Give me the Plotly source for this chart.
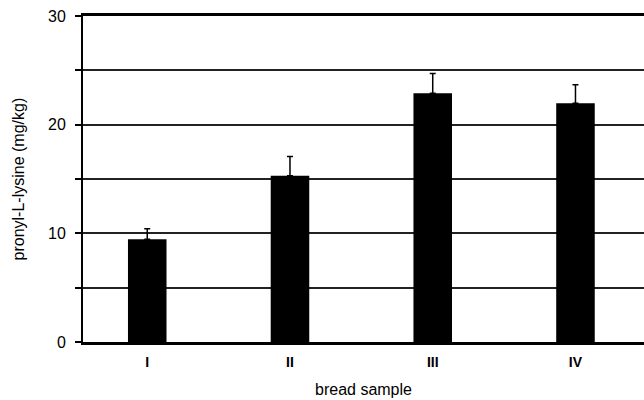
import plotly.graph_objects as go

samples = ["I", "II", "III", "IV"]
lysine = [9.45, 15.3, 22.9, 21.97]
err_up = [0.97, 1.77, 1.8, 1.7]

y_ticks = [0, 5, 10, 15, 20, 25, 30]
y_tick_text = ["0", "", "10", "", "20", "", "30"]

fig = go.Figure()
fig.add_trace(go.Bar(
    x=samples, y=lysine, width=0.27,
    marker=dict(color="black", line=dict(width=0)),
    error_y=dict(type="data", symmetric=False, array=err_up,
                 arrayminus=[0] * len(err_up), color="black",
                 thickness=1.5, width=3),
))

font = "Liberation Sans, Arial, sans-serif"
fig.update_layout(
    width=644, height=400,
    margin=dict(l=83, r=0, t=16, b=58),
    plot_bgcolor="white", paper_bgcolor="white",
    showlegend=False,
    font=dict(family=font, color="black", size=16),
    xaxis=dict(
        range=[-0.45, 3.48], showline=True, linecolor="black", linewidth=2.5,
        mirror=True, ticks="", showgrid=False,
        tickfont=dict(family=font, size=14, weight="bold"),
        ticklabelstandoff=5,
        title=dict(text="bread sample", font=dict(size=16), standoff=16),
    ),
    yaxis=dict(
        range=[0, 30], tickvals=y_ticks, ticktext=y_tick_text,
        showline=True, linecolor="black", linewidth=2,
        ticks="outside", ticklen=6, tickwidth=1.5, tickcolor="black",
        showgrid=True, gridcolor="#222", gridwidth=1.5,
        zeroline=False, tickfont=dict(size=16), ticklabelstandoff=6,
    ),
    annotations=[dict(
        text="pronyl-L-lysine (mg/kg)", textangle=-90,
        xref="paper", yref="paper", x=-0.115, y=0.5,
        xanchor="center", yanchor="middle", showarrow=False,
        font=dict(size=16),
    )],
)

fig.write_html("out.html", config={"displayModeBar": False})

with open("out.html", "r", encoding="utf-8") as f:
    html = f.read()
html = html.replace("<head>", "<head><style>html,body{margin:0;padding:0;}</style>", 1)
with open("out.html", "w", encoding="utf-8") as f:
    f.write(html)
